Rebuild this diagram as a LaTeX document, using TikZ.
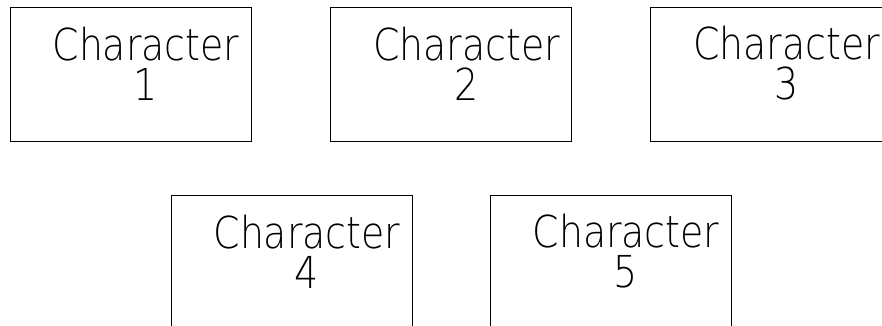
\documentclass[tikz,border=0pt]{standalone}
\usepackage{fontspec}
\newfontfamily\cadfont[FakeStretch=0.86]{DejaVu Sans ExtraLight}
\usepackage{tikz}
\usetikzlibrary{positioning}
\tikzset{charbox/.style={draw,line width=0.8pt,minimum width=241pt,minimum height=134pt,inner sep=0pt},
	chartext/.style={align=center,inner sep=0pt,font=\cadfont\fontsize{44}{40}\selectfont}}

\begin{document}
\begin{tikzpicture}[x=1pt,y=1pt]
	\useasboundingbox (0,0) rectangle (882,325);
	\clip (0,0) rectangle (882,325);
	\def\dx{15.5}
	\def\dy{10.7}
	\foreach \n/\x/\y in {1/130.5/251,2/451/251,3/771/251,4/291.5/63,5/610.5/63}{
		\node[charbox] (c\n) at (\x,\y) {};
		\node[chartext] (t\n) at ([shift={(\dx,\dy)}]c\n.center) {Character\\\n};
	}
\end{tikzpicture}
\end{document}
